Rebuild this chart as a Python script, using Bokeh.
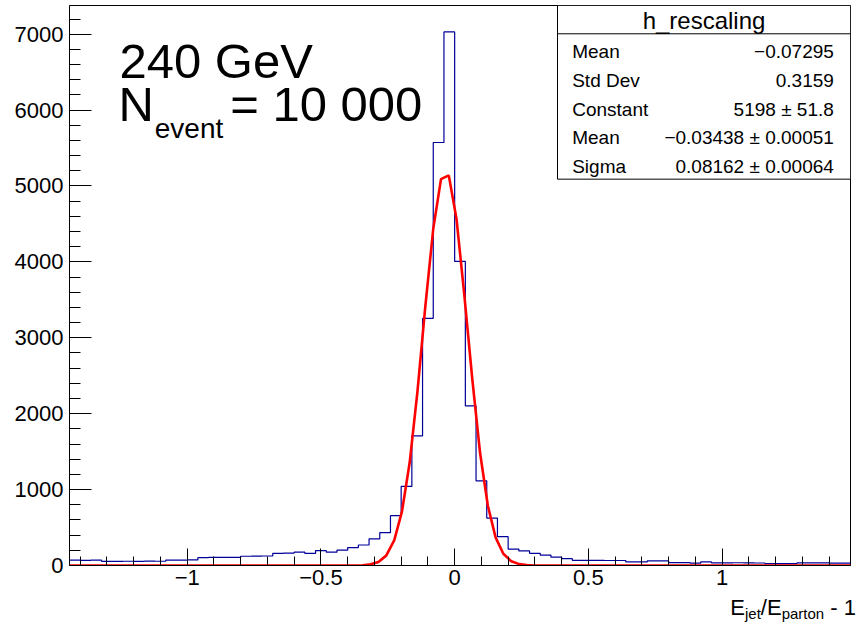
from bokeh.plotting import figure
from bokeh.layouts import column
from bokeh.models import Label, FixedTicker, CustomJSTickFormatter, Range1d, Div
from bokeh.embed import file_html
from bokeh.resources import INLINE

# h_rescaling: 73 bins of width 0.04 starting at -1.44
x_min = -1.44
bin_width = 0.04
counts = [70, 68, 70, 55, 54, 56, 55, 57, 56, 72,
          71, 73, 105, 107, 108, 107, 122, 124, 125, 160,
          164, 176, 159, 197, 176, 202, 236, 270, 351, 433,
          656, 1042, 1707, 3256, 5573, 7030, 4006, 2102, 1115, 625,
          380, 217, 192, 160, 137, 110, 90, 68, 68, 67,
          66, 66, 47, 47, 60, 60, 39, 39, 30, 47,
          35, 34, 36, 35, 33, 26, 26, 26, 35, 35,
          35, 30, 30]

# gaussian fit curve
fit_x = [-1.44, -0.372, -0.343, -0.314, -0.285, -0.256, -0.226, -0.197, -0.168, -0.139,
         -0.110, -0.080, -0.051, -0.022, 0.007, 0.036, 0.066, 0.095, 0.124, 0.153,
         0.182, 0.212, 0.241, 0.270, 0.299, 1.48]
fit_y = [0, 0, 4, 15, 47, 130, 330, 710, 1360, 2295,
         3400, 4435, 5090, 5140, 4565, 3570, 2455, 1485, 790, 370,
         155, 55, 18, 5, 0, 0]

x_ticks = [-1, -0.5, 0, 0.5, 1]
x_minor = [-1.4, -1.3, -1.2, -1.1, -0.9, -0.8, -0.7, -0.6, -0.4, -0.3, -0.2, -0.1,
           0.1, 0.2, 0.3, 0.4, 0.6, 0.7, 0.8, 0.9, 1.1, 1.2, 1.3, 1.4]
y_ticks = [0, 1000, 2000, 3000, 4000, 5000, 6000, 7000]
y_minor = [200, 400, 600, 800, 1200, 1400, 1600, 1800, 2200, 2400, 2600, 2800,
           3200, 3400, 3600, 3800, 4200, 4400, 4600, 4800, 5200, 5400, 5600, 5800,
           6200, 6400, 6600, 6800, 7200]

stat_names = ["Mean", "Std Dev", "Constant", "Mean", "Sigma"]
stat_values = ["\u22120.07295", "0.3159", "5198 \u00b1 51.8",
               "\u22120.03438 \u00b1 0.00051", "0.08162 \u00b1 0.00064"]

X0, X1, Y0, Y1 = -1.44, 1.48, 0, 7378
FONT = "Liberation Sans"


def ref(px, py):
    # pixel position in the original picture -> data coordinates
    return (X0 + (px - 69) / 797 * (X1 - X0), Y0 + (579 - py) / 574 * (Y1 - Y0))


p = figure(width=851, height=594, title=None,
           x_range=Range1d(X0, X1), y_range=Range1d(Y0, Y1),
           output_backend="svg", toolbar_location=None,
           min_border_left=69, min_border_right=1, min_border_top=5, min_border_bottom=29)
p.xgrid.visible = False
p.ygrid.visible = False
p.outline_line_color = "black"
p.outline_line_alpha = 1
p.background_fill_color = "white"
p.border_fill_color = "white"

p.xaxis.ticker = FixedTicker(ticks=x_ticks, minor_ticks=x_minor)
p.yaxis.ticker = FixedTicker(ticks=y_ticks, minor_ticks=y_minor)
p.xaxis.formatter = CustomJSTickFormatter(code="return String(tick).replace('-', '\u2212')")
for ax in (p.xaxis, p.yaxis):
    ax.axis_line_color = "black"
    ax.major_tick_line_color = "black"
    ax.minor_tick_line_color = "black"
    ax.major_tick_out = 0
    ax.minor_tick_out = 0
    ax.major_label_text_font = FONT
    ax.major_label_text_font_size = "22px"
    ax.major_label_text_color = "black"
p.yaxis.major_tick_in = 22
p.yaxis.minor_tick_in = 11
p.yaxis.major_label_standoff = 6
p.xaxis.major_tick_in = 17
p.xaxis.minor_tick_in = 9
p.xaxis.major_label_standoff = 4

edges = [x_min + i * bin_width for i in range(len(counts) + 1)]
p.step(edges, counts + [counts[-1]], mode="after", line_color="#000099", line_width=1.2)
p.line(fit_x, fit_y, line_color="#ff0000", line_width=2.6)

# stats box
bl, bt = ref(567, 5)
br, bb = ref(866, 183)
p.quad(left=[bl], right=[br], top=[bt], bottom=[bb], fill_color="white",
       line_color="black", line_width=1)
sy = ref(0, 34)[1]
p.segment(x0=[bl], y0=[sy], x1=[br], y1=[sy], line_color="black", line_width=1)


def add_text(txt, px, py, size, align="left"):
    # py is the wanted baseline; bokeh's svg text sits ~0.36 em lower
    x, y = ref(px, py - 0.36 * size)
    p.add_layout(Label(x=x, y=y, text=txt, text_font=FONT, text_font_size=f"{size}px",
                       text_align=align, text_baseline="alphabetic", text_color="black"))


add_text("h_rescaling", 716.5, 29, 24, "center")
for i, (name, val) in enumerate(zip(stat_names, stat_values)):
    yb = 59 + i * 29.5
    add_text(name, 582, yb, 19)
    add_text(val, 849, yb, 19, "right")

# energy and event count
add_text("240 GeV", 120, 80, 49)
add_text("N", 119, 124, 49)
add_text("event", 156, 141, 28)
add_text("= 10 000", 233, 124, 49)

# x axis title, below the figure
sub = "font-size:15px; position:relative; top:4px"
title = Div(width=851, height=23, text=(
    f"<div style=\"width:851px; text-align:right; font-family:'{FONT}'; font-size:22px; "
    f"line-height:17px; white-space:nowrap; color:black\">"
    f"E<span style=\"{sub}\">jet</span>/E<span style=\"{sub}\">parton</span> - 1</div>"))

layout = column(p, title, spacing=0)
open("out.html", "w").write(file_html(layout, INLINE))
